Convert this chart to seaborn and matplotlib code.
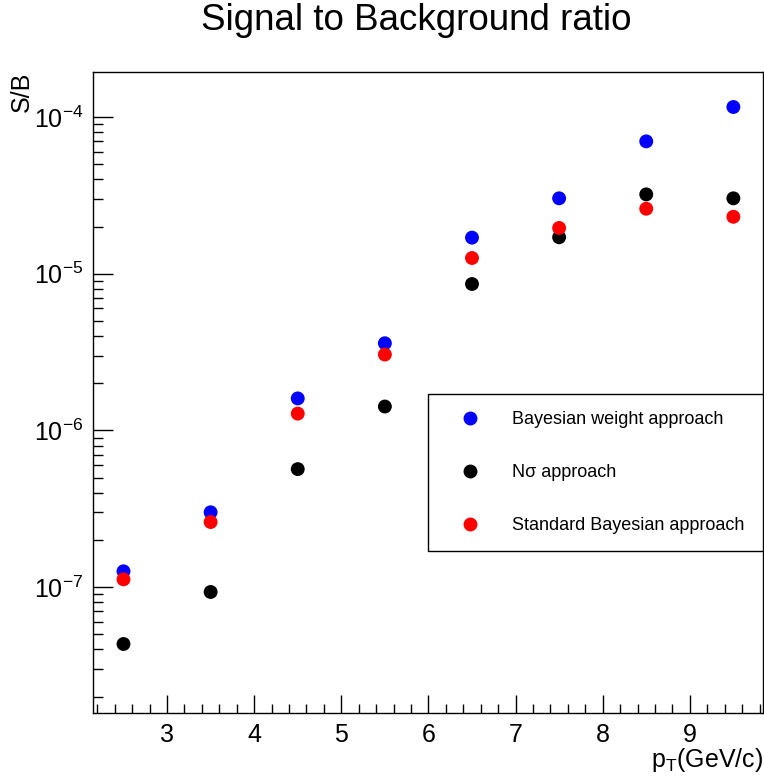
import numpy as np
import pandas as pd
import matplotlib
matplotlib.use("Agg")
import matplotlib.pyplot as plt
import matplotlib.ticker as mticker
import seaborn as sns

# ---- data ----
pt = [2.5, 3.5, 4.5, 5.5, 6.5, 7.5, 8.5, 9.5]
bayes_weight = [1.26e-7, 3.0e-7, 1.6e-6, 3.6e-6, 1.7e-5, 3.03e-5, 7.0e-5, 1.16e-4]
nsigma = [4.33e-8, 9.3e-8, 5.66e-7, 1.42e-6, 8.6e-6, 1.71e-5, 3.21e-5, 3.03e-5]
std_bayes = [1.12e-7, 2.6e-7, 1.28e-6, 3.05e-6, 1.26e-5, 1.96e-5, 2.6e-5, 2.31e-5]
series_names = ["Bayesian weight approach", "N\u03c3 approach", "Standard Bayesian approach"]
series_colors = ["#0000ff", "#000000", "#ff0000"]

df = pd.concat([
    pd.DataFrame({"pT": pt, "SB": bayes_weight, "method": series_names[0]}),
    pd.DataFrame({"pT": pt, "SB": nsigma, "method": series_names[1]}),
    pd.DataFrame({"pT": pt, "SB": std_bayes, "method": series_names[2]}),
], ignore_index=True)

sns.set_style("white")
plt.rcParams["font.family"] = ["Liberation Sans", "DejaVu Sans"]
plt.rcParams["mathtext.fontset"] = "custom"
plt.rcParams["mathtext.rm"] = "Liberation Sans"
plt.rcParams["mathtext.it"] = "Liberation Sans:italic"
plt.rcParams["mathtext.bf"] = "Liberation Sans:bold"
plt.rcParams["axes.unicode_minus"] = False
plt.rcParams["text.color"] = "black"
plt.rcParams["axes.labelcolor"] = "black"
plt.rcParams["xtick.color"] = "black"
plt.rcParams["ytick.color"] = "black"
plt.rcParams["legend.labelcolor"] = "black"

fig = plt.figure(figsize=(7.64, 7.80), dpi=100)
ax = fig.add_axes([93 / 764, 67 / 780, 670 / 764, 641 / 780])

sns.scatterplot(data=df, x="pT", y="SB", hue="method", palette=dict(zip(series_names, series_colors)),
                hue_order=series_names, s=100, edgecolor="none", linewidth=0, ax=ax, legend=True)

ax.set_yscale("log")
ax.set_xlim(2.15, 9.84)
ax.set_ylim(1.57e-8, 1.94e-4)

for sp in ax.spines.values():
    sp.set_color("black")
    sp.set_linewidth(1.0)

ax.xaxis.set_major_locator(mticker.MultipleLocator(1))
ax.xaxis.set_minor_locator(mticker.MultipleLocator(0.2))
ax.yaxis.set_major_locator(mticker.LogLocator(base=10, numticks=20))
ax.yaxis.set_minor_locator(mticker.LogLocator(base=10, subs=np.arange(2, 10), numticks=20))
ax.yaxis.set_minor_formatter(mticker.NullFormatter())

ax.tick_params(axis="both", which="both", direction="in", color="black", labelcolor="black", width=1.0,
               top=False, right=False, left=True, bottom=True, labelsize=18)
ax.tick_params(axis="y", which="major", length=14.5, pad=7)
ax.tick_params(axis="y", which="minor", length=7.5)
ax.tick_params(axis="x", which="major", length=13, pad=7)
ax.tick_params(axis="x", which="minor", length=6.5)

ax.set_xlabel("p$_{\\mathrm{T}}$(GeV/c)", loc="right", fontsize=18, color="black")
ax.xaxis.set_label_coords(1.0, -0.052)
ax.set_ylabel("S/B", loc="top", fontsize=18, color="black")
ax.yaxis.set_label_coords(-0.088, 1.0)

handles, labels = ax.get_legend_handles_labels()
if ax.get_legend() is not None:
    ax.get_legend().remove()
leg = ax.legend(handles, labels, loc="center", bbox_to_anchor=(0.5, 0.2512, 0.5, 0.248),
                mode="expand", fontsize=13, frameon=True, fancybox=False, framealpha=1,
                edgecolor="black", borderpad=0.95, labelspacing=2.0, handlelength=2.73,
                handletextpad=1.0, borderaxespad=0)
leg.get_frame().set_linewidth(1.0)

fig.text(416 / 764, 1 - 20 / 780, "Signal to Background ratio", ha="center", va="center",
         fontsize=26.5, color="black")

fig.savefig("out.png", dpi=100)
